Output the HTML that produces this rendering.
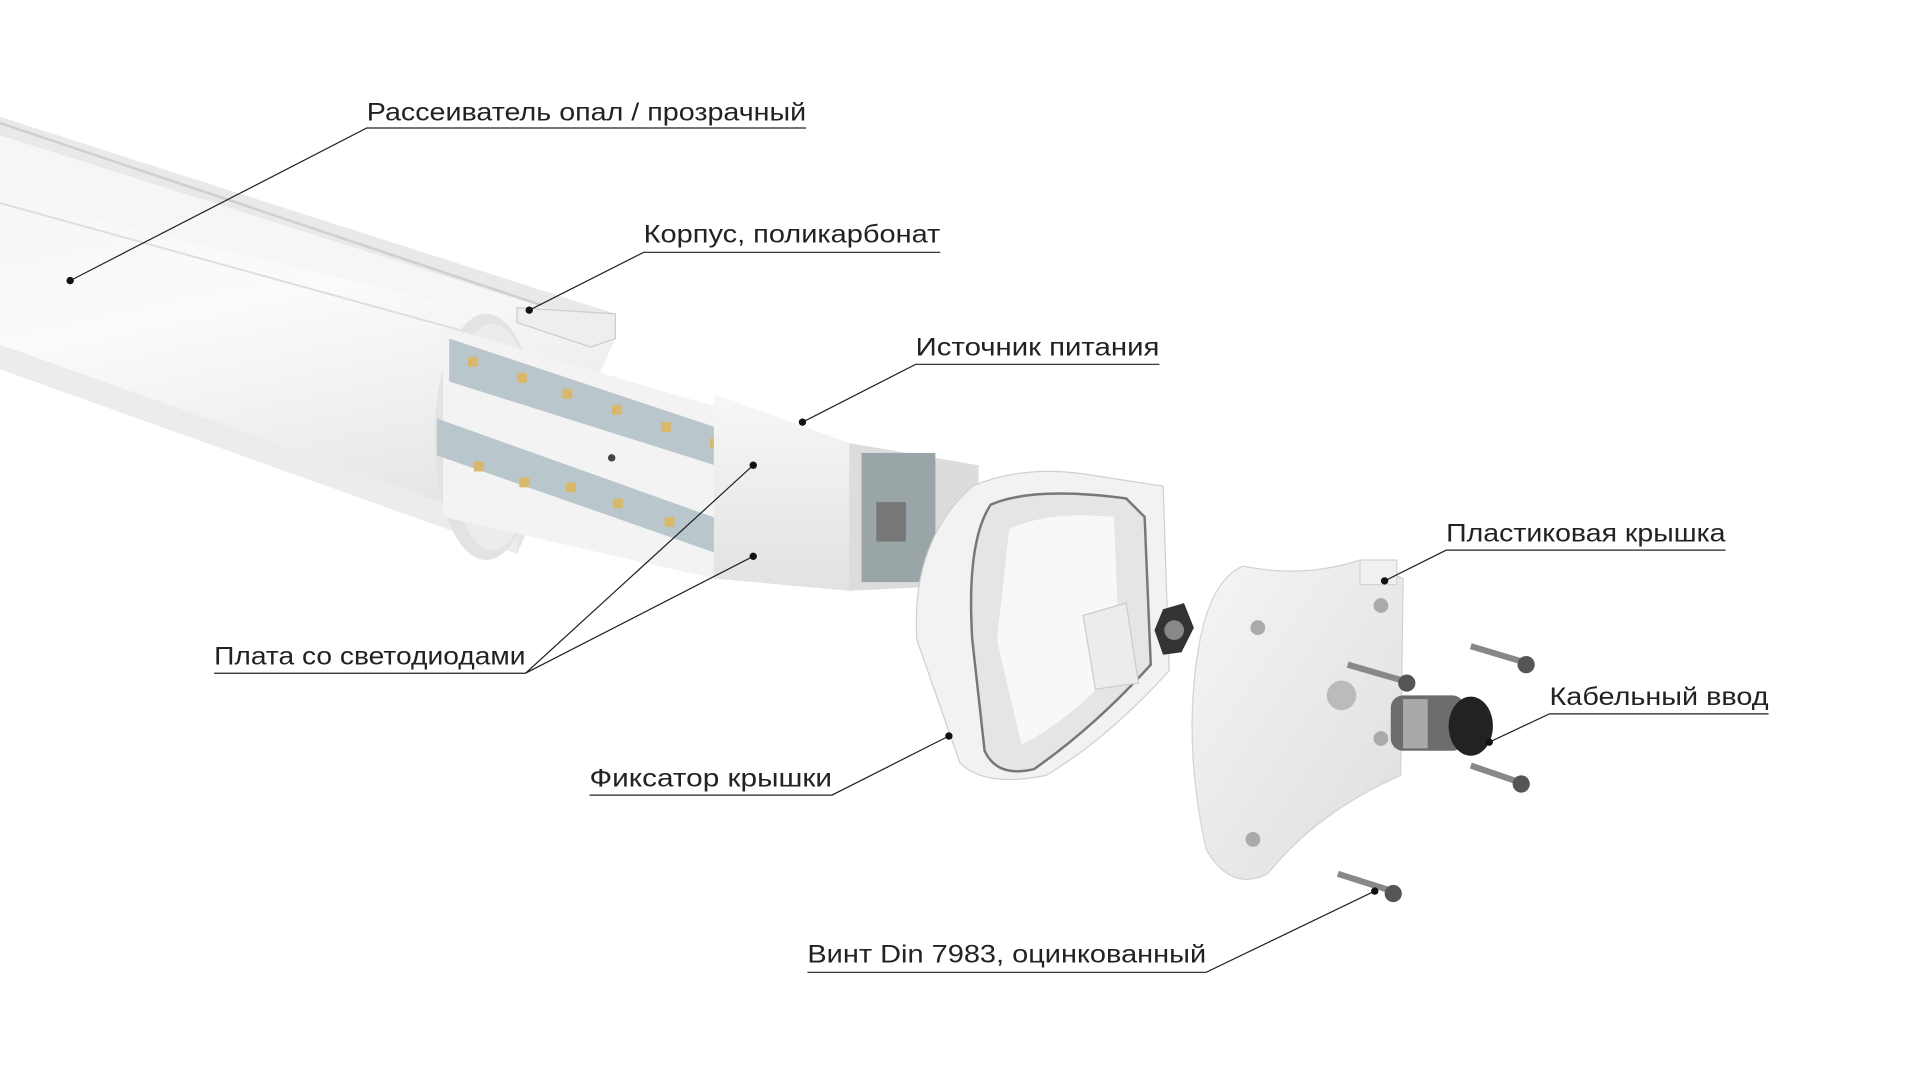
<!DOCTYPE html>
<html><head><meta charset="utf-8"><style>
html,body{margin:0;padding:0;background:#fff;overflow:hidden;width:1920px;height:1080px}
#w{position:absolute;left:0;top:0;width:1560px;height:878px;transform:scale(1.230769);transform-origin:0 0}
text{font-family:"Liberation Sans",sans-serif;font-size:20px;fill:#222}
</style></head><body><div id="w">
<svg width="1560" height="878" viewBox="0 0 1560 878" xmlns="http://www.w3.org/2000/svg">
<defs>
<linearGradient id="tube" x1="0" y1="0" x2="0.3" y2="1">
<stop offset="0" stop-color="#f4f4f4"/><stop offset="0.5" stop-color="#fbfbfb"/><stop offset="1" stop-color="#e6e6e6"/></linearGradient>
<linearGradient id="box" x1="0" y1="0" x2="0" y2="1">
<stop offset="0" stop-color="#f7f7f7"/><stop offset="1" stop-color="#e2e2e2"/></linearGradient>
<linearGradient id="plate" x1="0" y1="0" x2="1" y2="1">
<stop offset="0" stop-color="#f5f5f5"/><stop offset="1" stop-color="#dedede"/></linearGradient>
</defs>
<!-- tube body -->
<polygon points="0,95 500,255 500,275 420,450 0,300" fill="url(#tube)"/>
<polygon points="0,95 500,255 480,262 0,110" fill="#e9e9e9"/>
<polygon points="0,110 480,262 470,272 0,160" fill="#f6f6f6"/>
<line x1="0" y1="100" x2="440" y2="248" stroke="#cfcfcf" stroke-width="2"/>
<line x1="0" y1="165" x2="380" y2="270" stroke="#ddd" stroke-width="1.5"/>
<polygon points="0,280 420,430 420,450 0,300" fill="#ececec"/>
<!-- opening ellipse -->
<ellipse cx="395" cy="355" rx="42" ry="100" fill="#e3e3e3"/>
<ellipse cx="400" cy="355" rx="35" ry="92" fill="#ececec"/>
<!-- inner profile -->
<polygon points="360,265 580,330 690,360 690,480 580,470 360,420" fill="#f3f3f3"/>
<!-- LED strips -->
<polygon points="365,275 635,365 635,395 365,310" fill="#b9c6cc"/>
<polygon points="355,340 635,440 635,468 355,370" fill="#b9c6cc"/>
<g fill="#d8b86a">
<rect x="380" y="290" width="8" height="8"/><rect x="420" y="303" width="8" height="8"/><rect x="457" y="316" width="8" height="8"/><rect x="497" y="329" width="8" height="8"/><rect x="537" y="343" width="8" height="8"/><rect x="577" y="356" width="8" height="8"/>
<rect x="385" y="375" width="8" height="8"/><rect x="422" y="388" width="8" height="8"/><rect x="460" y="392" width="8" height="8"/><rect x="498" y="405" width="8" height="8"/><rect x="540" y="420" width="8" height="8"/><rect x="580" y="436" width="8" height="8"/>
</g>
<circle cx="497" cy="372" r="3" fill="#444"/>
<!-- power supply box -->
<polygon points="580,320 690,360 790,380 790,470 690,480 580,470" fill="url(#box)"/>
<polygon points="690,360 795,378 795,475 690,480" fill="#dcdcdc"/>
<rect x="700" y="368" width="60" height="105" fill="#9aa5a8"/>
<rect x="712" y="408" width="24" height="32" fill="#777"/>
<!-- housing top lip -->
<polygon points="420,250 500,255 500,275 480,282 420,262" fill="#eee" stroke="#ccc"/>
<!-- end frame -->
<path d="M790,395 Q830,378 880,385 L945,395 L950,545 Q900,600 850,630 Q800,640 780,620 L745,520 Q740,440 790,395 Z" fill="#f2f2f2" stroke="#d0d0d0"/>
<path d="M805,410 Q840,395 915,405 L930,420 L935,540 Q890,590 840,625 Q810,632 800,610 L790,520 Q785,440 805,410 Z" fill="#e5e5e5" stroke="#777" stroke-width="2"/>
<path d="M820,430 Q850,415 905,420 L910,540 Q870,585 830,605 L810,520 Z" fill="#f8f8f8"/>
<polygon points="880,500 915,490 925,555 890,560" fill="#ececec" stroke="#ccc"/>
<polygon points="945,495 962,490 970,510 960,530 945,532 938,512" fill="#333"/>
<circle cx="954" cy="512" r="8" fill="#888"/>
<!-- plate -->
<path d="M1010,460 Q1060,470 1105,455 L1140,470 L1138,630 Q1070,660 1030,710 Q1000,725 980,690 Q960,600 975,520 Q985,470 1010,460 Z" fill="url(#plate)" stroke="#d3d3d3"/>
<rect x="1105" y="455" width="30" height="20" fill="#f0f0f0" stroke="#d4d4d4"/>
<g fill="#aaa"><circle cx="1022" cy="510" r="6"/><circle cx="1122" cy="492" r="6"/><circle cx="1122" cy="600" r="6"/><circle cx="1018" cy="682" r="6"/></g>
<circle cx="1090" cy="565" r="12" fill="#bbb"/>
<!-- cable gland -->
<rect x="1130" y="565" width="60" height="45" rx="10" fill="#6d6d6d"/>
<rect x="1140" y="568" width="20" height="40" fill="#a9a9a9"/>
<ellipse cx="1195" cy="590" rx="18" ry="24" fill="#222"/>
<!-- screws -->
<g stroke="#888" stroke-width="5"><line x1="1195" y1="525" x2="1235" y2="537"/><line x1="1095" y1="540" x2="1140" y2="553"/><line x1="1195" y1="622" x2="1233" y2="635"/><line x1="1087" y1="710" x2="1128" y2="723"/></g>
<g fill="#555"><circle cx="1240" cy="540" r="7"/><circle cx="1143" cy="555" r="7"/><circle cx="1236" cy="637" r="7"/><circle cx="1132" cy="726" r="7"/></g>
<!-- leaders -->
<g stroke="#222" stroke-width="1" fill="none">
<polyline points="655,104 298,104 57,228"/>
<polyline points="764,205 523,205 430,252"/>
<polyline points="942,296 744,296 652,343"/>
<polyline points="1402,447 1175,447 1125,472"/>
<polyline points="1437,580 1259,580 1210,603"/>
<polyline points="174,547 427,547 612,378"/>
<polyline points="427,547 612,452"/>
<polyline points="479,646 676,646 771,598"/>
<polyline points="656,790 980,790 1117,724"/>
</g>
<g fill="#111"><circle cx="57" cy="228" r="3"/><circle cx="430" cy="252" r="3"/><circle cx="652" cy="343" r="3"/><circle cx="1125" cy="472" r="3"/><circle cx="1210" cy="603" r="3"/><circle cx="612" cy="378" r="3"/><circle cx="612" cy="452" r="3"/><circle cx="771" cy="598" r="3"/><circle cx="1117" cy="724" r="3"/></g>
<text x="298" y="98" textLength="357" lengthAdjust="spacingAndGlyphs">Рассеиватель опал / прозрачный</text>
<text x="523" y="197" textLength="241" lengthAdjust="spacingAndGlyphs">Корпус, поликарбонат</text>
<text x="744" y="289" textLength="198" lengthAdjust="spacingAndGlyphs">Источник питания</text>
<text x="1175" y="440" textLength="227" lengthAdjust="spacingAndGlyphs">Пластиковая крышка</text>
<text x="1259" y="573" textLength="178" lengthAdjust="spacingAndGlyphs">Кабельный ввод</text>
<text x="174" y="540" textLength="253" lengthAdjust="spacingAndGlyphs">Плата со светодиодами</text>
<text x="479" y="639" textLength="197" lengthAdjust="spacingAndGlyphs">Фиксатор крышки</text>
<text x="656" y="782" textLength="324" lengthAdjust="spacingAndGlyphs">Винт Din 7983, оцинкованный</text>
</svg></div></body></html>
